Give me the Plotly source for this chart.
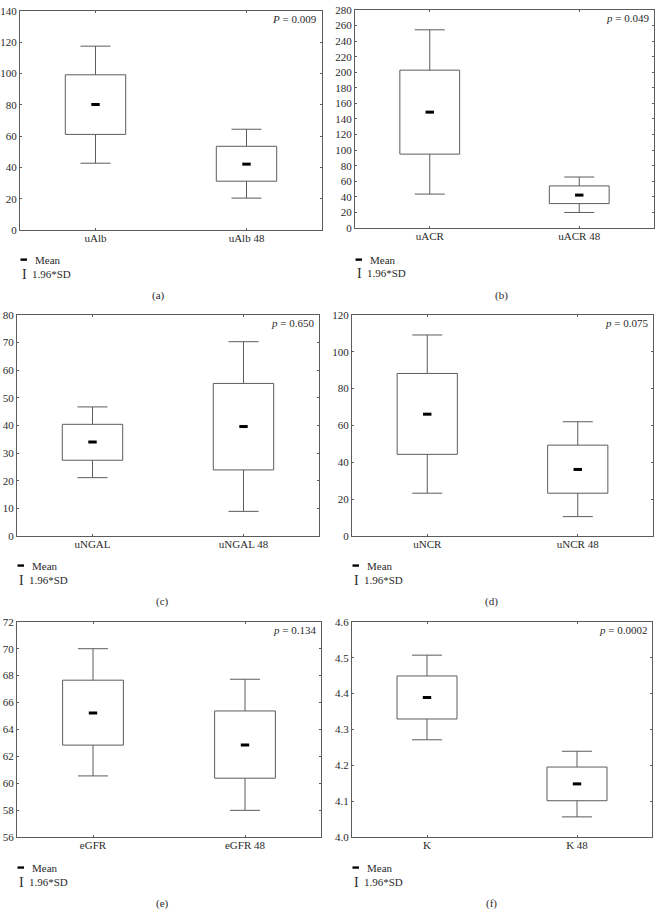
import plotly.graph_objects as go

# ---- data ----
cats_a = ["uAlb", "uAlb 48"]
mean_a = [80.2, 42.1]
box_lo_a = [61.1, 31.2]
box_hi_a = [99.2, 53.5]
sd_lo_a = [42.7, 20.4]
sd_hi_a = [117.5, 64.4]

cats_b = ["uACR", "uACR 48"]
mean_b = [148.8, 42.3]
box_lo_b = [94.9, 31.4]
box_hi_b = [202.7, 54.1]
sd_lo_b = [43.6, 20.0]
sd_hi_b = [254.5, 65.5]

cats_c = ["uNGAL", "uNGAL 48"]
mean_c = [34.0, 39.6]
box_lo_c = [27.4, 23.9]
box_hi_c = [40.4, 55.2]
sd_lo_c = [21.1, 8.9]
sd_hi_c = [46.7, 70.3]

cats_d = ["uNCR", "uNCR 48"]
mean_d = [66.1, 36.1]
box_lo_d = [44.3, 23.2]
box_hi_d = [88.2, 49.3]
sd_lo_d = [23.2, 10.5]
sd_hi_d = [109.1, 62.0]

cats_e = ["eGFR", "eGFR 48"]
mean_e = [65.22, 62.83]
box_lo_e = [62.83, 60.37]
box_hi_e = [67.66, 65.37]
sd_lo_e = [60.54, 57.98]
sd_hi_e = [70.0, 67.73]

cats_f = ["K", "K 48"]
mean_f = [4.389, 4.148]
box_lo_f = [4.329, 4.101]
box_hi_f = [4.449, 4.195]
sd_lo_f = [4.271, 4.056]
sd_hi_f = [4.507, 4.239]

p_labels = ["<i>P</i> = 0.009", "<i>p</i> = 0.049", "<i>p</i> = 0.650",
            "<i>p</i> = 0.075", "<i>p</i> = 0.134", "<i>p</i> = 0.0002"]
captions = ["(a)", "(b)", "(c)", "(d)", "(e)", "(f)"]
y_ranges = [[0, 140], [0, 280], [0, 80], [0, 120], [56, 72], [4.0, 4.6]]
y_dticks = [20, 20, 10, 20, 2, 0.1]
y_formats = ["d", "d", "d", "d", "d", ".1f"]

W, H = 656, 915
# panel frames in pixels: left, right, top, bottom
frames = [(20, 322, 5, 227), (355, 654, 4, 225),
          (17, 319, 313, 537), (352, 653, 313, 537),
          (17, 321, 624, 842), (352, 652, 624, 842)]
caption_pos = [(158, 293), (501, 293), (162, 603), (491, 603), (162, 909), (491, 909)]
legend_y = [(257, 272), (257, 271), (567, 582), (567, 582), (873, 888), (873, 888)]

panels = [
    (cats_a, mean_a, box_lo_a, box_hi_a, sd_lo_a, sd_hi_a),
    (cats_b, mean_b, box_lo_b, box_hi_b, sd_lo_b, sd_hi_b),
    (cats_c, mean_c, box_lo_c, box_hi_c, sd_lo_c, sd_hi_c),
    (cats_d, mean_d, box_lo_d, box_hi_d, sd_lo_d, sd_hi_d),
    (cats_e, mean_e, box_lo_e, box_hi_e, sd_lo_e, sd_hi_e),
    (cats_f, mean_f, box_lo_f, box_hi_f, sd_lo_f, sd_hi_f),
]

LINE = "#5c5c5c"
TXT = "#2a2a2a"
FONT = "Liberation Serif"

fig = go.Figure()
layout = dict(width=W, height=H, autosize=False,
              margin=dict(l=0, r=0, t=0, b=0),
              paper_bgcolor="white", plot_bgcolor="white",
              showlegend=False, barmode="overlay",
              font=dict(family=FONT, size=11, color=TXT))
annotations = []
shapes = []

for i, (cats, mean, lo, hi, wl, wh) in enumerate(panels):
    n = "" if i == 0 else str(i + 1)
    xa, ya = "x" + n, "y" + n
    L, R, T, B = frames[i]
    # whiskers (1.96*SD) as error bars around the mean, drawn under the box
    fig.add_trace(go.Bar(
        x=cats, y=mean, width=0.4,
        marker=dict(color="rgba(0,0,0,0)", line=dict(width=0)),
        error_y=dict(type="data", symmetric=False,
                     array=[h - m for h, m in zip(wh, mean)],
                     arrayminus=[m - l for m, l in zip(mean, wl)],
                     color=LINE, thickness=1, width=15),
        xaxis=xa, yaxis=ya, hoverinfo="skip"))
    # box
    fig.add_trace(go.Bar(
        x=cats, base=lo, y=[h - l for h, l in zip(hi, lo)], width=0.4,
        marker=dict(color="white", line=dict(color=LINE, width=1)),
        xaxis=xa, yaxis=ya, hoverinfo="skip"))
    # mean
    fig.add_trace(go.Scatter(
        x=cats, y=mean, mode="markers",
        marker=dict(symbol="line-ew", size=6, color="black",
                    line=dict(width=3, color="black")),
        xaxis=xa, yaxis=ya, hoverinfo="skip"))
    layout["xaxis" + n] = dict(
        domain=[L / W, R / W], anchor=ya, type="category",
        range=[-0.5, 1.5], showline=True, mirror="ticks", linecolor=LINE,
        linewidth=1, ticks="inside", ticklen=2, tickcolor=LINE,
        showgrid=False, zeroline=False, ticklabelstandoff=-2,
        tickfont=dict(family=FONT, size=11, color=TXT))
    layout["yaxis" + n] = dict(
        domain=[1 - B / H, 1 - T / H], anchor=xa, range=y_ranges[i],
        dtick=y_dticks[i], tickformat=y_formats[i],
        showline=True, mirror="ticks", linecolor=LINE, linewidth=1,
        ticks="inside", ticklen=2, tickcolor=LINE,
        showgrid=False, zeroline=False,
        tickfont=dict(family=FONT, size=11, color=TXT))
    annotations.append(dict(
        text=p_labels[i], xref=xa + " domain", yref=ya + " domain",
        x=0.99, y=0.998, xanchor="right", yanchor="top", showarrow=False,
        font=dict(family=FONT, size=11, color=TXT)))
    cx, cy = caption_pos[i]
    annotations.append(dict(
        text=captions[i], xref="paper", yref="paper", x=cx / W, y=1 - cy / H,
        xanchor="center", yanchor="middle", showarrow=False,
        font=dict(family=FONT, size=11, color=TXT)))
    my, sy = legend_y[i]
    # legend key: mean
    shapes.append(dict(type="rect", xref="paper", yref="paper",
                       x0=(L + 0.5) / W, x1=(L + 7) / W,
                       y0=1 - (my + 1.2) / H, y1=1 - (my - 1.2) / H,
                       fillcolor="black", line=dict(width=0)))
    annotations.append(dict(
        text="Mean", xref="paper", yref="paper", x=(L + 13) / W, y=1 - my / H,
        xanchor="left", yanchor="middle", showarrow=False,
        font=dict(family=FONT, size=11, color=TXT)))
    annotations.append(dict(
        text="I", xref="paper", yref="paper", x=(L + 4) / W, y=1 - sy / H,
        xanchor="center", yanchor="middle", showarrow=False,
        font=dict(family=FONT, size=14, color=TXT)))
    annotations.append(dict(
        text="1.96*SD", xref="paper", yref="paper", x=(L + 10) / W, y=1 - sy / H,
        xanchor="left", yanchor="middle", showarrow=False,
        font=dict(family=FONT, size=11, color=TXT)))

layout["annotations"] = annotations
layout["shapes"] = shapes
fig.update_layout(**layout)

post = "document.body.style.margin='0';document.body.style.overflow='hidden';"
fig.write_html("out.html", config={"displayModeBar": False}, post_script=post)
